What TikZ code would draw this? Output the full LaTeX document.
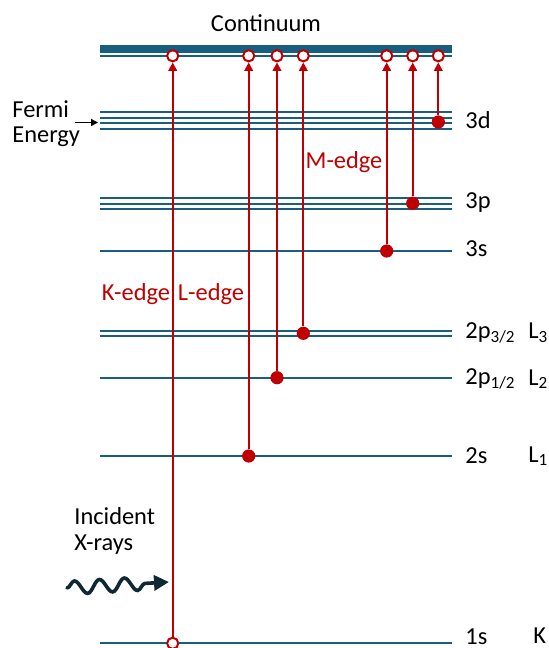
\documentclass[tikz,border=0pt]{standalone}
\usepackage{fontspec}
\setmainfont{Carlito}
\usetikzlibrary{arrows.meta,decorations.pathmorphing}
\definecolor{levelblue}{RGB}{24,94,128}
\definecolor{edgered}{RGB}{192,0,0}
\definecolor{waveink}{RGB}{16,40,52}
\tikzset{
  level/.style={levelblue, line width=1pt},
  band/.style={levelblue, line width=3.8pt},
  dot/.style={circle, fill=edgered, inner sep=0pt, minimum size=6.6pt},
  hole/.style={circle, draw=edgered, fill=white, line width=1pt, inner sep=0pt, minimum size=5.6pt},
  excite/.style={edgered, line width=1pt, -{Triangle[length=4.2pt,width=4.2pt]}},
  lbl/.style={anchor=west, font=\fontsize{12.2}{14}\selectfont, inner sep=0pt},
  redlbl/.style={text=edgered, font=\fontsize{12.2}{14}\selectfont, inner sep=0pt},
  txt/.style={font=\fontsize{12.2}{14}\selectfont, inner sep=0pt}
}
\begin{document}
\begin{tikzpicture}[x=0.5pt, y=-0.5pt]
\useasboundingbox (0,0) rectangle (548,648);

% continuum band
\draw[band] (100,48.7) -- (452,48.7);
\draw[level] (100,56) -- (452,56);
\node[txt] (cont) at (266,23) {Continuum};

% 3d manifold
\foreach \y in {112,117.5,123,128.5} \draw[level] (100,\y) -- (452,\y);
% 3p manifold
\foreach \y in {198.3,203.5,208.8} \draw[level] (100,\y) -- (452,\y);
% 3s
\draw[level] (100,250.7) -- (452,250.7);
% 2p3/2
\draw[level] (100,330.6) -- (452,330.6);
\draw[level] (100,336.1) -- (452,336.1);
% 2p1/2
\draw[level] (100,377.7) -- (452,377.7);
% 2s
\draw[level] (100,456) -- (452,456);
% 1s
\draw[level] (100,643.3) -- (452,643.3);

% level labels
\node[lbl] (l3d) at (465,120) {3d};
\node[lbl] (l3p) at (465,203) {3p};
\node[lbl] (l3s) at (465,249) {3s};
\node[lbl] (l2p3) at (465,333) {2p\textsubscript{3/2}};
\node[lbl] (lL3) at (528,333) {L\textsubscript{3}};
\node[lbl] (l2p1) at (465,379) {2p\textsubscript{1/2}};
\node[lbl] (lL2) at (528,379) {L\textsubscript{2}};
\node[lbl] (l2s) at (465,456) {2s};
\node[lbl] (lL1) at (528,456) {L\textsubscript{1}};
\node[lbl] (l1s) at (465,637) {1s};
\node[lbl] (lK) at (533,636) {K};

% Fermi level marker
\node[txt, anchor=west] (fermi) at (12,109) {Fermi};
\node[txt, anchor=west] (energy) at (12,137) {Energy};
\coordinate (fa) at (75,122.5);
\coordinate (fb) at (98,122.5);
\draw[line width=0.7pt, -{Triangle[length=3.5pt,width=3.5pt]}] (fa) -- (fb);

% edge labels
\node[redlbl] (kedge) at (136,294) {K-edge};
\node[redlbl] (ledge) at (211,294) {L-edge};
\node[redlbl] (medge) at (344,162) {M-edge};

% final states in the continuum
\foreach \n/\x in {ck/172.7, c2s/248.7, c2p1/277, c2p3/303.3, c3s/386.7, c3p/412.7, c3d/438.3}
  \node[hole] (\n) at (\x,55.8) {};

% initial core holes
\node[hole] (h1s) at (172.7,643.3) {};
\node[dot] (h2s) at (248.7,456) {};
\node[dot] (h2p1) at (277,377.7) {};
\node[dot] (h2p3) at (303.3,333.3) {};
\node[dot] (h3s) at (386.7,251) {};
\node[dot] (h3p) at (412.7,203.3) {};
\node[dot] (h3d) at (438.3,122) {};

% excitations
\draw[excite] (h1s) -- (ck);
\draw[excite] (h2s) -- (c2s);
\draw[excite] (h2p1) -- (c2p1);
\draw[excite] (h2p3) -- (c2p3);
\draw[excite] (h3s) -- (c3s);
\draw[excite] (h3p) -- (c3p);
\draw[excite] (h3d) -- (c3d);

% incident photon
\node[txt, anchor=west] (inc) at (74,516) {Incident};
\node[txt, anchor=west] (xr) at (74,545) {X-rays};
\coordinate (w1) at (67,588);
\coordinate (w2) at (169,582);
\draw[waveink, line width=1.8pt, line cap=round,
  decorate, decoration={snake, amplitude=3.3pt, segment length=12.5pt, post length=7pt},
  -{Triangle[length=7.5pt,width=7.5pt]}] (w1) -- (w2);
\end{tikzpicture}
\end{document}
